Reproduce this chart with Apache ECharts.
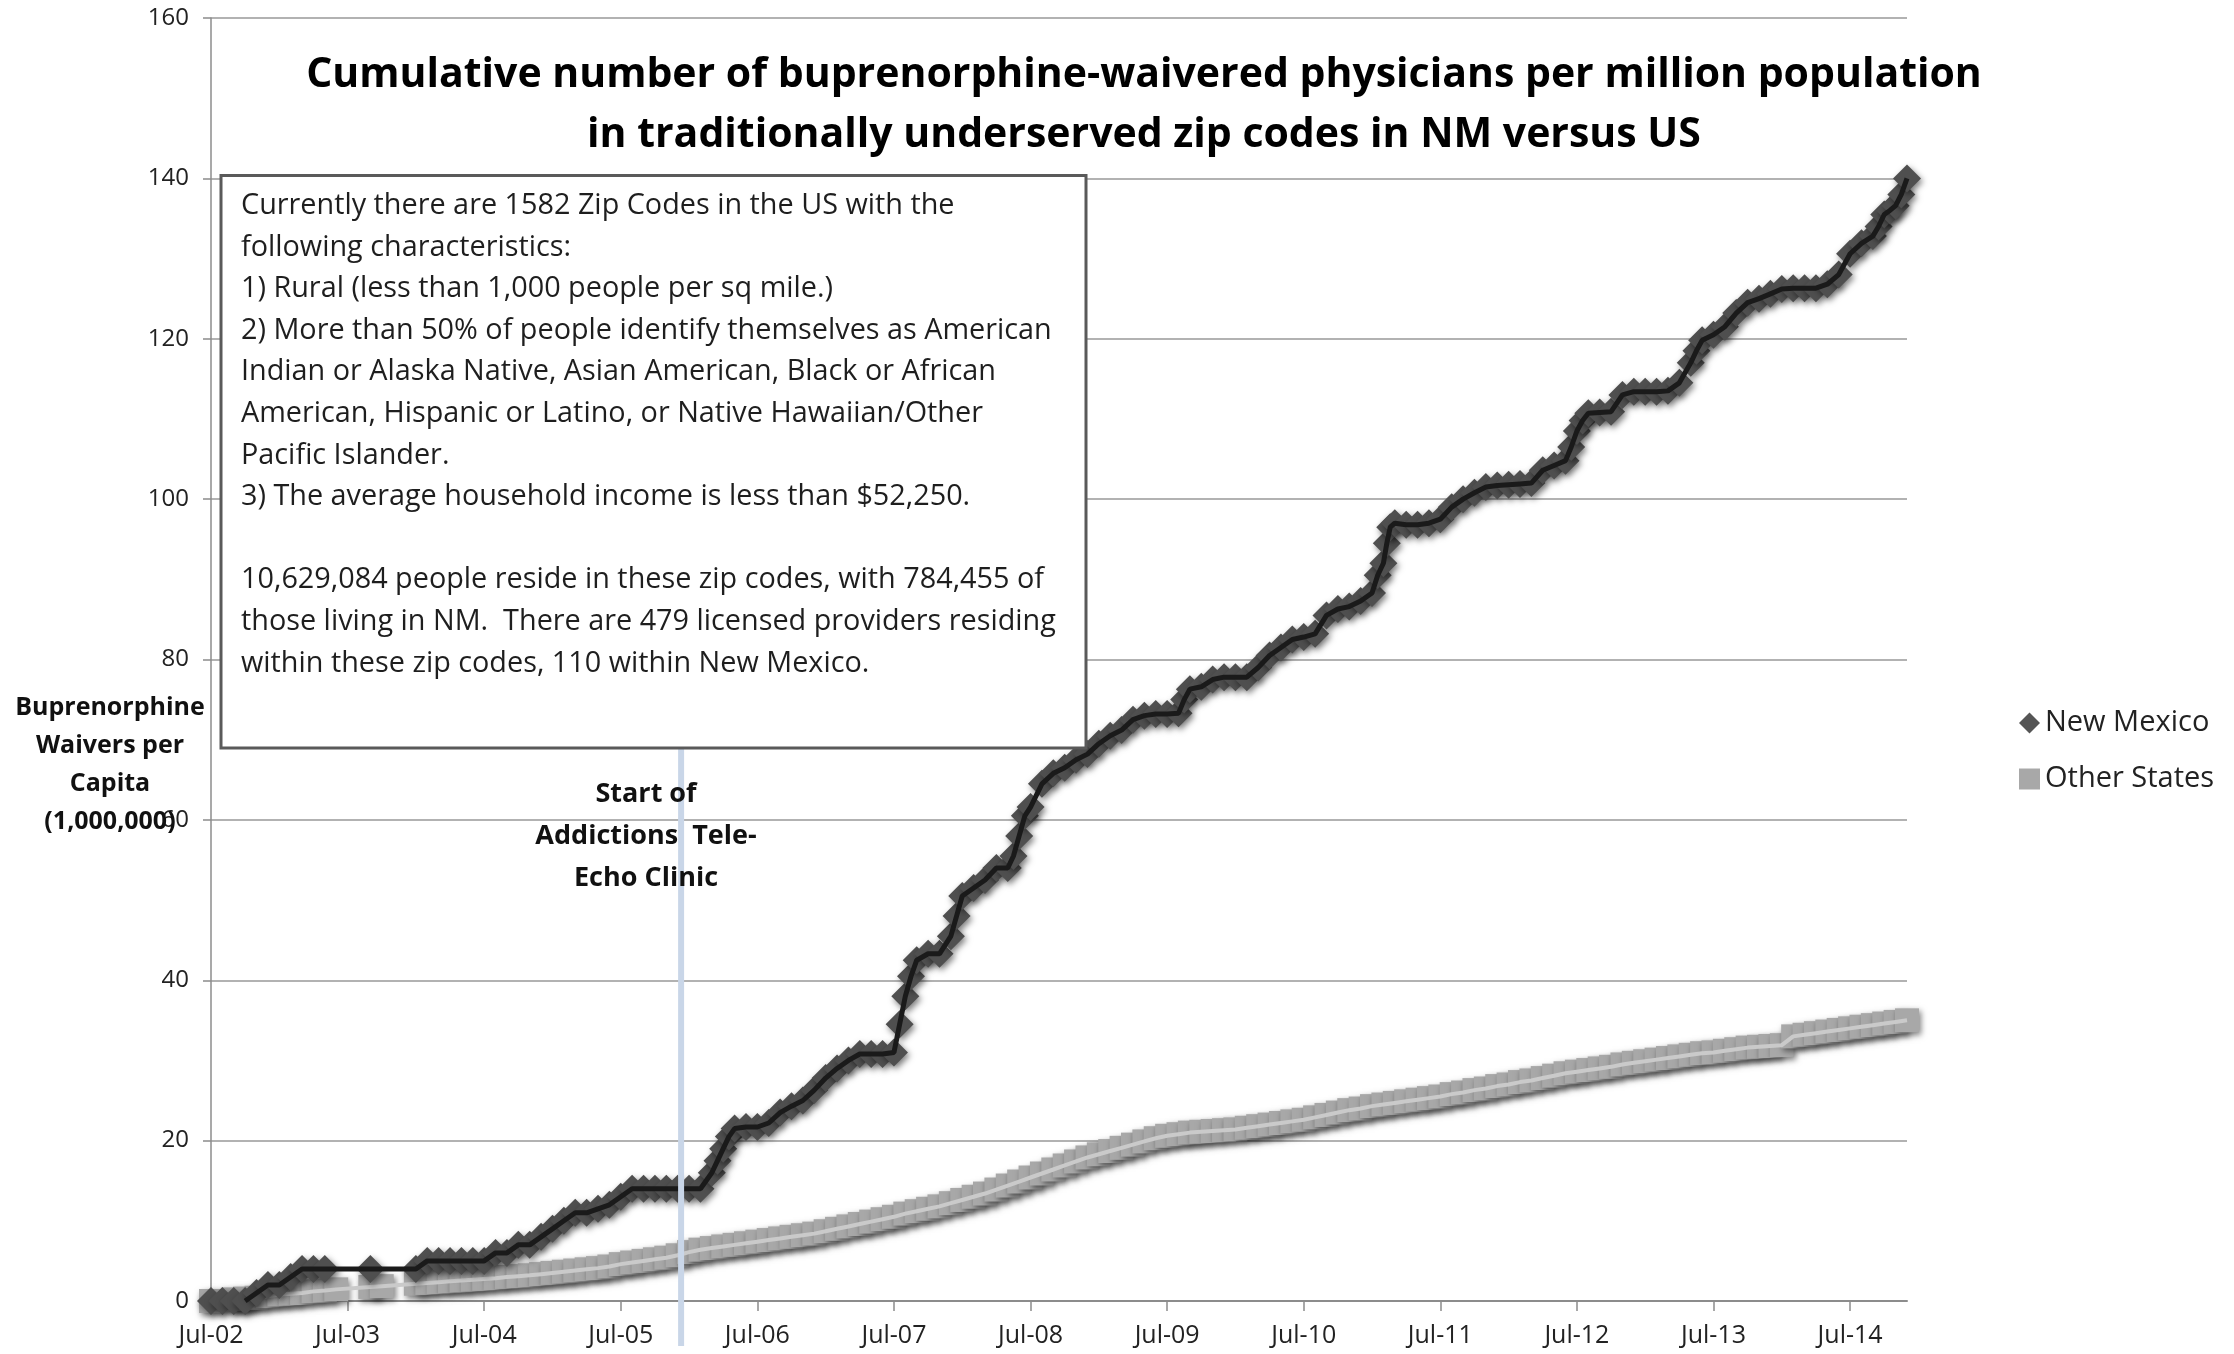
<!DOCTYPE html>
<html>
<head>
<meta charset="utf-8">
<title>Buprenorphine-waivered physicians, NM vs US</title>
<script src="https://cdn.jsdelivr.net/npm/echarts@6/dist/echarts.min.js"></script>
<style>
  html, body { margin: 0; padding: 0; background: #fff; }
  #main { width: 2234px; height: 1354px; }
</style>
</head>
<body>
<div id="main"></div>
<script>
// x values are months counted from Jul-02 (index 0 = Jul-02)
const tickMonths = [0, 12, 24, 36, 48, 60, 72, 84, 96, 108, 120, 132, 144];
const tickLabels = ['Jul-02', 'Jul-03', 'Jul-04', 'Jul-05', 'Jul-06', 'Jul-07', 'Jul-08',
                    'Jul-09', 'Jul-10', 'Jul-11', 'Jul-12', 'Jul-13', 'Jul-14'];

// New Mexico, one value per month (null = no point that month)
const nmValues = [
  0, 0, 0, 0, 1, 2, 2, 3, 4, 4, 4, null,
  null, null, 4, null, null, null, 4, 5, 5, 5, 5, 5,
  5, 6, 6, 7, 7, 8, 9, 10, 11, 11, 11.5, 12,
  13, 14, 14, 14, 14, 14, 14, 14, 16, 19, 21.5, 21.7,
  21.7, 22.2, 23.5, 24.3, 25, 26.3, 27.8, 29, 30, 30.8, 30.8, 30.8,
  31, 38, 42.5, 43.3, 43.3, 45.5, 50.5, 51.5, 52.5, 54, 54, 58,
  61.6, 64.5, 65.8, 66.5, 67.5, 68.2, 69.5, 70.5, 71.2, 72.5, 73, 73.2,
  73.2, 73.3, 76.3, 76.6, 77.5, 77.8, 77.8, 77.8, 79, 80.5, 81.5, 82.5,
  82.8, 83.2, 85.5, 86.3, 86.6, 87.3, 88.3, 92, 97, 96.8, 96.8, 97,
  97.5, 99, 100, 100.8, 101.5, 101.7, 101.8, 101.9, 102, 103.6, 104.2, 104.8,
  108.5, 110.7, 110.8, 110.9, 113, 113.4, 113.4, 113.4, 113.5, 114.5, 117, 119.8,
  120.5, 121.5, 123.2, 124.5, 125, 125.6, 126.2, 126.3, 126.3, 126.3, 126.8, 128,
  130.6, 131.9, 132.8, 135.5, 136.6, 140
];
// extra New Mexico points read along the steep jumps: [month, value]
const nmJumpPoints = [
  [44.5, 17.5], [45.5, 20.5], [60.5, 34.5], [61.5, 40.5], [65.5, 48],
  [70.5, 55.5], [71.5, 60.5], [85.5, 75], [102.5, 90.5], [103.3, 94.5],
  [103.6, 96.5], [119.5, 106.5], [120.5, 109.8], [130.5, 118.5],
  [146.5, 134], [147.5, 136], [148.5, 138]
];

// Other States, one value per month
const otherValues = [
  0, null, 0.2, 0.3, 0.4, 0.6, 0.8, 0.9, 1.0, 1.2, 1.3, 1.45,
  null, null, 1.75, 1.85, null, null, 2.15, 2.25, 2.35, 2.45, 2.55, 2.65,
  2.75, 2.85, 3.0, 3.1, 3.2, 3.35, 3.5, 3.65, 3.8, 3.95, 4.1, 4.3,
  4.6, 4.8, 5.0, 5.2, 5.4, 5.7, 6.1, 6.4, 6.6, 6.8, 7.0, 7.2,
  7.4, 7.6, 7.8, 8.0, 8.2, 8.4, 8.7, 9.0, 9.3, 9.6, 9.9, 10.2,
  10.5, 10.9, 11.2, 11.5, 11.8, 12.2, 12.6, 13.0, 13.4, 13.9, 14.4, 14.9,
  15.4, 15.9, 16.4, 16.9, 17.4, 17.9, 18.3, 18.7, 19.1, 19.5, 19.9, 20.3,
  20.6, 20.8, 21.0, 21.1, 21.2, 21.3, 21.4, 21.6, 21.8, 22.0, 22.2, 22.4,
  22.6, 22.9, 23.2, 23.5, 23.8, 24.0, 24.3, 24.5, 24.7, 24.9, 25.1, 25.3,
  25.5, 25.8, 26.0, 26.3, 26.5, 26.8, 27.0, 27.3, 27.5, 27.8, 28.1, 28.4,
  28.6, 28.8, 29.0, 29.2, 29.5, 29.7, 29.9, 30.1, 30.3, 30.5, 30.7, 30.9,
  31.0, 31.2, 31.4, 31.6, 31.7, 31.8, 31.9, 33.0, 33.2, 33.4, 33.6, 33.8,
  34.0, 34.2, 34.4, 34.6, 34.8, 35.0
];

const echoMonth = 41.3; // start of Addictions Tele-Echo Clinic

const noteText = [
  'Currently there are 1582 Zip Codes in the US with the',
  'following characteristics:',
  '1) Rural (less than 1,000 people per sq mile.)',
  '2) More than 50% of people identify themselves as American',
  'Indian or Alaska Native, Asian American, Black or African',
  'American, Hispanic or Latino, or Native Hawaiian/Other',
  'Pacific Islander.',
  '3) The average household income is less than $52,250.',
  '',
  '10,629,084 people reside in these zip codes, with 784,455 of',
  'those living in NM.  There are 479 licensed providers residing',
  'within these zip codes, 110 within New Mexico.'
].join('\n');

const toPairs = vals => vals.map((v, i) => [i, v]);
const nmData = toPairs(nmValues)
  .filter(p => p[1] !== null)
  .concat(nmJumpPoints)
  .sort((a, b) => a[0] - b[0]);
// the New Mexico line only starts where the count leaves zero
const nmLineData = nmData.filter(p => p[0] >= 3);

var myChart = echarts.init(document.getElementById('main'));

const font = '"Open Sans", Lato, sans-serif';
const markerShadow = {
  shadowColor: 'rgba(0,0,0,0.5)',
  shadowBlur: 6,
  shadowOffsetX: 2,
  shadowOffsetY: 3
};

myChart.setOption({
  animation: false,
  backgroundColor: '#fff',
  textStyle: { fontFamily: font },
  title: {
    text: 'Cumulative number of buprenorphine-waivered physicians per million population\nin traditionally underserved zip codes in NM versus US',
    left: 1139,
    top: 40,
    textAlign: 'center',
    textStyle: { fontFamily: font, fontWeight: 'bold', fontSize: 41, lineHeight: 60, color: '#000' }
  },
  legend: {
    data: [
      { name: 'New Mexico', icon: 'diamond', itemStyle: { color: '#555555' } },
      { name: 'Other States', icon: 'rect', itemStyle: { color: '#a8a8a8' } }
    ],
    orient: 'vertical',
    left: 2014,
    top: 703,
    itemWidth: 21,
    itemHeight: 21,
    itemGap: 26,
    textStyle: { fontFamily: font, fontSize: 29, lineHeight: 30, color: '#222' }
  },
  grid: { left: 211, right: 327, top: 18, bottom: 53 },
  xAxis: {
    type: 'value',
    min: 0,
    max: 149,
    interval: 12,
    splitLine: { show: false },
    axisLine: { lineStyle: { color: '#8c8c8c', width: 2 } },
    axisTick: { show: true, length: 10, customValues: tickMonths, lineStyle: { color: '#8c8c8c', width: 1.5 } },
    axisLabel: {
      customValues: tickMonths,
      margin: 22,
      fontSize: 25,
      color: '#222',
      formatter: v => {
        const i = tickMonths.indexOf(v);
        return i >= 0 ? tickLabels[i] : '';
      }
    }
  },
  yAxis: {
    type: 'value',
    min: 0,
    max: 160,
    interval: 20,
    axisLine: { show: true, lineStyle: { color: '#8c8c8c', width: 1.5 } },
    axisTick: { show: true, length: 8, lineStyle: { color: '#8c8c8c', width: 1.5 } },
    axisLabel: { margin: 22, fontSize: 24, color: '#222' },
    splitLine: { lineStyle: { color: '#999', width: 1.5 } }
  },
  series: [
    {
      name: 'Other States',
      type: 'line',
      z: 2,
      data: toPairs(otherValues),
      connectNulls: true,
      symbol: 'rect',
      symbolSize: 24,
      lineStyle: { opacity: 0 },
      itemStyle: Object.assign({ color: '#a8a8a8' }, markerShadow)
    },
    {
      name: 'Other States line',
      type: 'line',
      z: 3,
      data: toPairs(otherValues),
      connectNulls: true,
      showSymbol: false,
      symbol: 'none',
      lineStyle: { color: '#cacaca', width: 4 }
    },
    {
      name: 'New Mexico',
      type: 'line',
      z: 4,
      data: nmData,
      symbol: 'diamond',
      symbolSize: 28,
      lineStyle: { opacity: 0 },
      itemStyle: Object.assign({ color: '#4f4f4f' }, markerShadow)
    },
    {
      name: 'New Mexico line',
      type: 'line',
      z: 5,
      data: nmLineData,
      showSymbol: false,
      symbol: 'none',
      lineStyle: { color: '#1a1a1a', width: 5 }
    }
  ]
});

// annotations placed from the axes' own scales
const echoBottom = myChart.convertToPixel({ gridIndex: 0 }, [echoMonth, 0]);
const boxTop = myChart.convertToPixel({ gridIndex: 0 }, [0, 140]);
const boxBottom = 748;

myChart.setOption({
  graphic: [
    {
      type: 'line',
      z: 10,
      shape: { x1: echoBottom[0], y1: boxBottom, x2: echoBottom[0], y2: echoBottom[1] + 45 },
      style: { stroke: '#c9d6e8', lineWidth: 6 }
    },
    {
      type: 'rect',
      z: 20,
      shape: { x: 221, y: boxTop[1] - 3, width: 865, height: boxBottom - boxTop[1] + 3 },
      style: { fill: '#fff', stroke: '#5a5a5a', lineWidth: 3 }
    },
    {
      type: 'text',
      z: 21,
      style: {
        x: 241, y: 185,
        text: noteText,
        font: '28.8px ' + font,
        lineHeight: 41.6,
        fill: '#1e1e1e'
      }
    },
    {
      type: 'text',
      z: 21,
      style: {
        x: 646, y: 773,
        text: 'Start of\nAddictions  Tele-\nEcho Clinic',
        font: 'bold 27px ' + font,
        lineHeight: 42,
        align: 'center',
        fill: '#111'
      }
    },
    {
      type: 'text',
      z: 21,
      style: {
        x: 110, y: 689,
        text: 'Buprenorphine\nWaivers per\nCapita\n(1,000,000)',
        font: 'bold 25px ' + font,
        lineHeight: 38,
        align: 'center',
        fill: '#111'
      }
    }
  ]
});
</script>
</body>
</html>
